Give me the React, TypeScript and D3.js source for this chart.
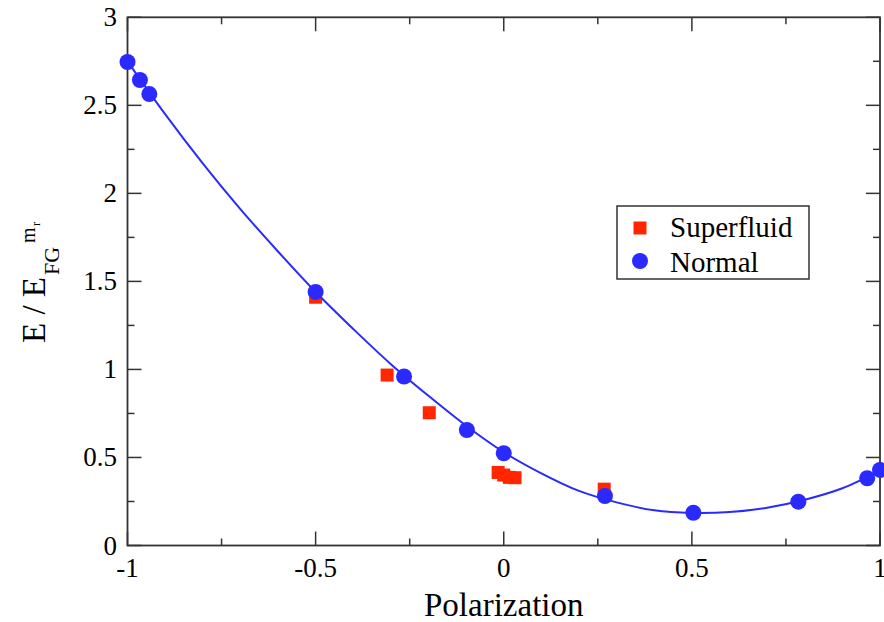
import React from "react";
import * as d3 from "d3";

const superfluidX = [-0.5, -0.31, -0.198, -0.015, 0.0, 0.015, 0.03, 0.267];
const superfluidY = [1.41, 0.968, 0.754, 0.415, 0.4, 0.387, 0.385, 0.32];

const normalX = [-1.0, -0.967, -0.942, -0.5, -0.265, -0.098, 0.0, 0.269, 0.504, 0.783, 0.966, 1.0];
const normalY = [2.746, 2.644, 2.564, 1.44, 0.96, 0.656, 0.524, 0.281, 0.186, 0.249, 0.382, 0.429];

const fitX = [-1.0, -0.9, -0.8, -0.7, -0.6, -0.5, -0.4, -0.3, -0.2, -0.1, 0.0, 0.1, 0.2, 0.3, 0.4, 0.5, 0.6, 0.7, 0.8, 0.9, 1.0];
const fitY = [2.75, 2.45, 2.17, 1.91, 1.67, 1.44, 1.23, 1.03, 0.85, 0.68, 0.53, 0.41, 0.31, 0.245, 0.2, 0.185, 0.19, 0.215, 0.26, 0.325, 0.425];

const xMajor = [-1, -0.5, 0, 0.5, 1];
const xMinor = [-0.75, -0.25, 0.25, 0.75];
const xTickLabels = ["-1", "-0.5", "0", "0.5", "1"];
const yMajor = [0, 0.5, 1, 1.5, 2, 2.5, 3];
const yMinor = [0.25, 0.75, 1.25, 1.75, 2.25, 2.75];
const yTickLabels = ["0", "0.5", "1", "1.5", "2", "2.5", "3"];

const legendLabels = ["Superfluid", "Normal"];

const W = 884;
const H = 622;
const left = 127.5;
const right = 880;
const top = 17.3;
const bottom = 545.5;

const RED = "#ff2600";
const BLUE = "#2a2aff";
const FONT = "Liberation Serif, Times New Roman, DejaVu Serif, serif";
const ts = { fontFamily: FONT };

export default function App() {
  const x = d3.scaleLinear().domain([-1, 1]).range([left, right]);
  const y = d3.scaleLinear().domain([0, 3]).range([bottom, top]);

  const fitPts = fitX.map((v, i) => [v, fitY[i]] as [number, number]);
  const line = d3
    .line<[number, number]>()
    .x((d) => x(d[0]))
    .y((d) => y(d[1]))
    .curve(d3.curveCatmullRom.alpha(0.5));

  const sq = 13;
  const r = 8;
  const majLen = 14;
  const minLen = 7;
  const tickStroke = "#333";

  return (
    <svg
      width={W}
      height={H}
      style={{ position: "absolute", left: 0, top: 0, background: "#fff" }}
    >
      <rect x={0} y={0} width={W} height={H} fill="#fff" />
      {/* ticks */}
      <g stroke={tickStroke} strokeWidth={1.5}>
        {xMajor.map((v) => (
          <g key={"xM" + v}>
            <line x1={x(v)} x2={x(v)} y1={bottom} y2={bottom - majLen} />
            <line x1={x(v)} x2={x(v)} y1={top} y2={top + majLen} />
          </g>
        ))}
        {xMinor.map((v) => (
          <g key={"xm" + v}>
            <line x1={x(v)} x2={x(v)} y1={bottom} y2={bottom - minLen} />
            <line x1={x(v)} x2={x(v)} y1={top} y2={top + minLen} />
          </g>
        ))}
        {yMajor.map((v) => (
          <g key={"yM" + v}>
            <line x1={left} x2={left + majLen} y1={y(v)} y2={y(v)} />
            <line x1={right} x2={right - majLen} y1={y(v)} y2={y(v)} />
          </g>
        ))}
        {yMinor.map((v) => (
          <g key={"ym" + v}>
            <line x1={left} x2={left + minLen} y1={y(v)} y2={y(v)} />
            <line x1={right} x2={right - minLen} y1={y(v)} y2={y(v)} />
          </g>
        ))}
      </g>
      {/* frame */}
      <rect
        x={left}
        y={top}
        width={right - left}
        height={bottom - top}
        fill="none"
        stroke={tickStroke}
        strokeWidth={1.8}
      />
      {/* tick labels */}
      <g fontSize={27} fill="#000">
        {xMajor.map((v, i) => (
          <text key={"xl" + v} style={ts} x={x(v)} y={577} textAnchor="middle">
            {xTickLabels[i]}
          </text>
        ))}
        {yMajor.map((v, i) => (
          <text key={"yl" + v} style={ts} x={117} y={y(v) + 9} textAnchor="end">
            {yTickLabels[i]}
          </text>
        ))}
      </g>
      {/* axis titles */}
      <text style={ts} x={(left + right) / 2} y={616} fontSize={33} textAnchor="middle" fill="#000">
        Polarization
      </text>
      <g transform="translate(45,283) rotate(-90)" fill="#000">
        <text style={ts} x={-60} y={0} fontSize={33}>E / E</text>
        <text style={ts} x={8} y={14} fontSize={22}>FG</text>
        <text style={ts} x={40} y={-10} fontSize={20}>m</text>
        <text style={ts} x={57} y={-5} fontSize={12}>r</text>
      </g>
      {/* data */}
      <g fill={RED}>
        {superfluidX.map((v, i) => (
          <rect
            key={"s" + i}
            x={x(v) - sq / 2}
            y={y(superfluidY[i]) - sq / 2}
            width={sq}
            height={sq}
          />
        ))}
      </g>
      <path d={line(fitPts) || ""} fill="none" stroke={BLUE} strokeWidth={2} />
      <g fill={BLUE}>
        {normalX.map((v, i) => (
          <circle key={"n" + i} cx={x(v)} cy={y(normalY[i])} r={r} />
        ))}
      </g>
      {/* legend */}
      <rect x={617} y={206} width={192} height={73} fill="#fff" stroke="#333" strokeWidth={1.5} />
      <rect x={640 - sq / 2} y={228 - sq / 2} width={sq} height={sq} fill={RED} />
      <circle cx={640} cy={261} r={r} fill={BLUE} />
      <text style={ts} x={670} y={237} fontSize={29} fill="#000">{legendLabels[0]}</text>
      <text style={ts} x={670} y={272} fontSize={29} fill="#000">{legendLabels[1]}</text>
    </svg>
  );
}
